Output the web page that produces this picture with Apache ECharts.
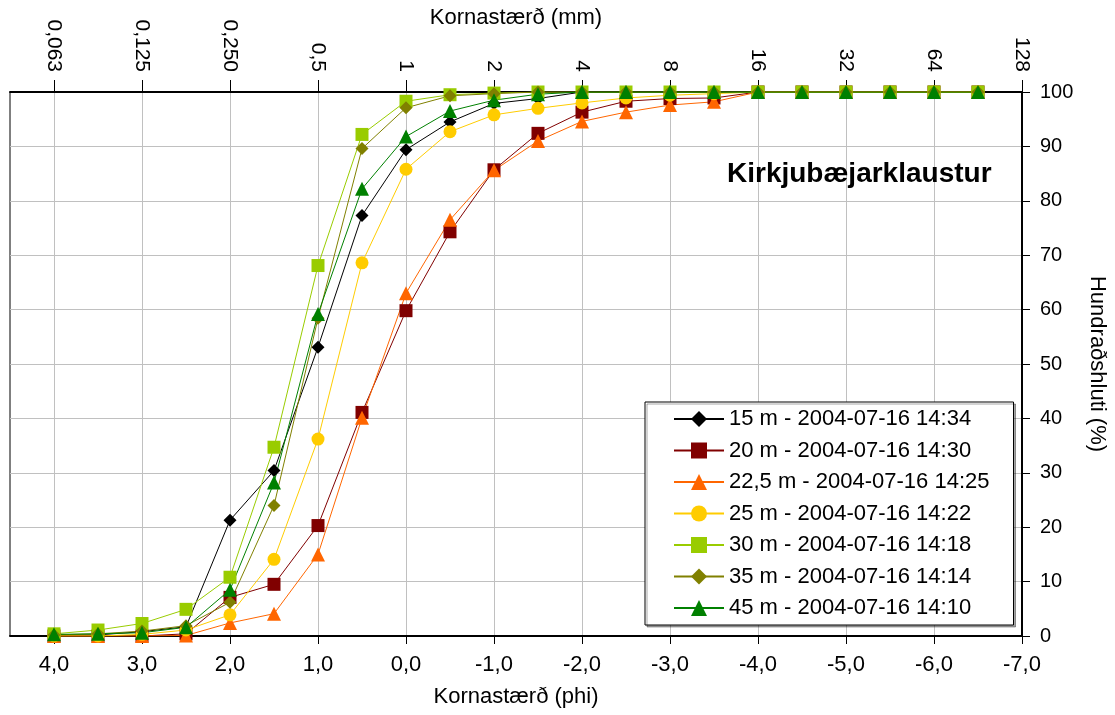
<!DOCTYPE html>
<html>
<head>
<meta charset="utf-8">
<title>Kirkjubæjarklaustur</title>
<script src="https://cdn.jsdelivr.net/npm/echarts@6/dist/echarts.min.js"></script>
<style>
	html, body { margin: 0; padding: 0; background: #fff; }
	#chart { width: 1115px; height: 715px; }
</style>
</head>
<body>
<div id="chart"></div>
<script>
/*x gildi (phi)*/
var phi = [4.0, 3.5, 3.0, 2.5, 2.0, 1.5, 1.0, 0.5, 0.0, -0.5, -1.0, -1.5, -2.0, -2.5, -3.0, -3.5, -4.0, -4.5, -5.0, -5.5, -6.0, -6.5];
/*tick gildi og mm merki efst*/
var phiTicks = [4, 3, 2, 1, 0, -1, -2, -3, -4, -5, -6, -7];
var mmLabels = ['0,063', '0,125', '0,250', '0,5', '1', '2', '4', '8', '16', '32', '64', '128'];

/*uppsafnaður hundraðshluti fyrir hvert sýni*/
var s15 = [0.2, 0.2, 0.8, 1.7, 21.3, 30.4, 53.1, 77.3, 89.4, 94.5, 97.9, 98.8, 100, 100, 100, 100, 100, 100, 100, 100, 100, 100];
var s20 = [0, 0, 0, 0.4, 7.1, 9.5, 20.3, 41.1, 59.8, 74.3, 85.7, 92.4, 96.3, 98.3, 98.8, 98.9, 100, 100, 100, 100, 100, 100];
var s22 = [0, 0, 0, 0.1, 2.4, 4.1, 15.0, 40.1, 63.0, 76.5, 85.6, 91.0, 94.6, 96.3, 97.6, 98.2, 100, 100, 100, 100, 100, 100];
var s25 = [0, 0, 0.3, 1.1, 3.9, 14.1, 36.2, 68.6, 85.8, 92.7, 95.8, 97.0, 98.0, 98.9, 99.4, 99.7, 100, 100, 100, 100, 100, 100];
var s30 = [0.4, 1.1, 2.3, 4.9, 10.8, 34.7, 68.1, 92.2, 98.3, 99.5, 99.8, 100, 100, 100, 100, 100, 100, 100, 100, 100, 100, 100];
var s35 = [0.2, 0.4, 0.9, 1.9, 6.2, 24.0, 58.4, 89.6, 97.1, 99.3, 99.7, 100, 100, 100, 100, 100, 100, 100, 100, 100, 100, 100];
var s45 = [0.3, 0.4, 0.6, 1.6, 8.5, 28.2, 59.2, 82.2, 91.8, 96.5, 98.5, 99.6, 100, 100, 100, 100, 100, 100, 100, 100, 100, 100];

var names = [
	'15 m - 2004-07-16 14:34',
	'20 m - 2004-07-16 14:30',
	'22,5 m - 2004-07-16 14:25',
	'25 m - 2004-07-16 14:22',
	'30 m - 2004-07-16 14:18',
	'35 m - 2004-07-16 14:14',
	'45 m - 2004-07-16 14:10'
];
var values = [s15, s20, s22, s25, s30, s35, s45];
var colors = ['#000000', '#800000', '#ff6600', '#ffcc00', '#99cc00', '#808000', '#008000'];
var symbols = ['diamond', 'rect', 'triangle', 'circle', 'rect', 'diamond', 'triangle'];
var sizes = [13, 13, 14, 13, 13, 13, 14];

var font = "'Liberation Sans', Arial, sans-serif";

window.onload = function() {
	var myChart = echarts.init(document.getElementById('chart'));

	/*raðir*/
	var series = [];
	for(var i = 0; i < values.length; i++) {
		var pts = [];
		for(var j = 0; j < phi.length; j++) {
			pts.push([phi[j], values[i][j]]);
		}
		series.push({
			name: names[i],
			type: 'line',
			xAxisIndex: 0,
			data: pts,
			symbol: symbols[i],
			symbolSize: sizes[i],
			showAllSymbol: true,
			color: colors[i],
			lineStyle: { width: 1, color: colors[i] },
			itemStyle: { color: colors[i] }
		});
	}

	var option = {
		animation: false,
		textStyle: { fontFamily: font, color: '#000' },
		title: {
			text: 'Kirkjubæjarklaustur',
			left: 727,
			top: 160,
			padding: 0,
			textStyle: { fontFamily: font, fontSize: 28, fontWeight: 'bold', color: '#000' }
		},
		legend: {
			data: names,
			orient: 'vertical',
			left: 645,
			top: 402,
			itemWidth: 50,
			itemHeight: 20,
			itemGap: 9.5,
			padding: [6, 24, 6, 28],
			backgroundColor: '#fff',
			borderColor: '#000',
			borderWidth: 1,
			shadowColor: 'rgba(0,0,0,0.35)',
			shadowOffsetX: 2,
			shadowOffsetY: 2,
			shadowBlur: 0,
			textStyle: { fontFamily: font, fontSize: 22, lineHeight: 22, color: '#000' }
		},
		grid: {
			left: 10,
			right: 93,
			top: 92,
			bottom: 79,
			outerBoundsMode: 'none',
			show: true,
			borderColor: '#000',
			borderWidth: 1
		},
		xAxis: [{
			type: 'value',
			position: 'bottom',
			min: -7,
			max: 4.5,
			interval: 1,
			inverse: true,
			name: 'Kornastærð (phi)',
			nameLocation: 'middle',
			nameGap: 50,
			nameMoveOverlap: false,
			nameTextStyle: { fontFamily: font, fontSize: 22, color: '#000' },
			axisLine: { show: true, onZero: false, lineStyle: { color: '#000', width: 2 } },
			axisTick: { show: true, length: 8, customValues: phiTicks, lineStyle: { color: '#000' } },
			axisLabel: {
				customValues: phiTicks,
				fontSize: 22,
				margin: 18,
				color: '#000',
				formatter: function(v) {
					return v.toFixed(1).replace('.', ',');
				}
			},
			splitLine: { show: true, lineStyle: { color: '#c0c0c0', width: 1 } }
		}, {
			type: 'value',
			position: 'top',
			min: -7,
			max: 4.5,
			interval: 1,
			inverse: true,
			name: 'Kornastærð (mm)',
			nameLocation: 'middle',
			nameGap: 63,
			nameMoveOverlap: false,
			nameTextStyle: { fontFamily: font, fontSize: 22, color: '#000' },
			axisLine: { show: true, onZero: false, lineStyle: { color: '#000', width: 2 } },
			axisTick: { show: true, length: 12, customValues: phiTicks, lineStyle: { color: '#000' } },
			axisLabel: {
				customValues: phiTicks,
				rotate: 90,
				fontSize: 21,
				margin: 20,
				color: '#000',
				formatter: function(v) {
					var k = phiTicks.indexOf(Math.round(v));
					return k < 0 ? '' : mmLabels[k];
				}
			},
			splitLine: { show: false }
		}],
		yAxis: [{
			type: 'value',
			position: 'right',
			min: 0,
			max: 100,
			interval: 10,
			name: 'Hundraðshluti (%)',
			nameLocation: 'middle',
			nameRotate: -90,
			nameGap: 64,
			nameMoveOverlap: false,
			nameTextStyle: { fontFamily: font, fontSize: 22, color: '#000' },
			axisLine: { show: true, onZero: false, lineStyle: { color: '#000', width: 2 } },
			axisTick: { show: true, length: 8, lineStyle: { color: '#000' } },
			axisLabel: { fontSize: 20, margin: 18, color: '#000' },
			splitLine: { show: true, lineStyle: { color: '#c0c0c0', width: 1 } }
		}],
		series: series
	};
	myChart.setOption(option);
}
</script>
</body>
</html>
